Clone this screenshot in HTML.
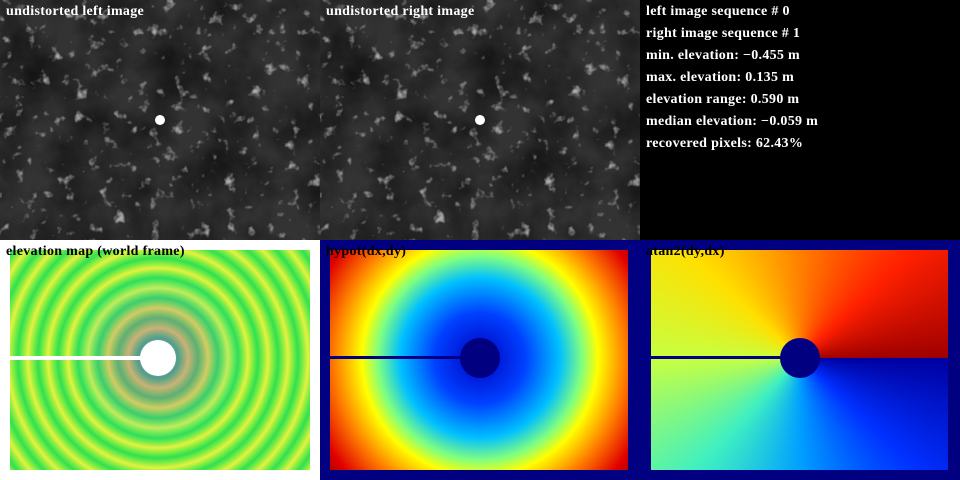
<!DOCTYPE html>
<html><head><meta charset="utf-8"><style>
body{margin:0;background:#000;}
#root{position:relative;width:960px;height:480px;overflow:hidden;background:#000;font-family:"Liberation Serif",serif;font-weight:bold;}
.panel{position:absolute;width:320px;height:240px;overflow:hidden;}
.title{position:absolute;left:6px;top:4px;font-size:14px;letter-spacing:0.3px;color:#fff;white-space:nowrap;}
.dark{color:#000;}
.stat{position:absolute;left:6px;font-size:14px;letter-spacing:0.3px;color:#fff;white-space:nowrap;}
.dot{position:absolute;border-radius:50%;}
</style></head><body>
<div id="root">
  <svg width="0" height="0" style="position:absolute">
    <filter id="tex" x="0" y="0" width="100%" height="100%">
      <feTurbulence type="fractalNoise" baseFrequency="0.02" numOctaves="4" seed="3"/>
      <feColorMatrix type="matrix" values="0 0 0 0 0  0 0 0 0 0  0 0 0 0 0  1.8 0 0 0 -0.6"/>
    </filter>
    <filter id="noise2" x="0" y="0" width="100%" height="100%">
      <feTurbulence type="fractalNoise" baseFrequency="0.08" numOctaves="3" seed="7"/>
      <feColorMatrix type="matrix" values="0 0 0 0 1  0 0 0 0 1  0 0 0 0 1  0 0 0 4 -2.5"/>
    </filter>
  </svg>

  <div class="panel" style="left:0;top:0;background:#333">
    <svg width="320" height="240"><rect width="320" height="240" fill="#333"/><rect width="320" height="240" fill="#000" filter="url(#tex)" opacity="0.6"/><rect width="320" height="240" fill="#bbb" filter="url(#noise2)" opacity="0.6"/></svg>
    <div class="dot" style="left:155px;top:115px;width:10px;height:10px;background:#fff"></div>
    <div class="title">undistorted left image</div>
  </div>
  <div class="panel" style="left:320px;top:0;background:#333">
    <svg width="320" height="240"><rect width="320" height="240" fill="#333"/><rect width="320" height="240" fill="#000" filter="url(#tex)" opacity="0.6"/><rect width="320" height="240" fill="#bbb" filter="url(#noise2)" opacity="0.6"/></svg>
    <div class="dot" style="left:155px;top:115px;width:10px;height:10px;background:#fff"></div>
    <div class="title">undistorted right image</div>
  </div>
  <div class="panel" style="left:640px;top:0;background:#000">
    <div class="stat" style="top:4px">left image sequence # 0</div>
    <div class="stat" style="top:26px">right image sequence # 1</div>
    <div class="stat" style="top:48px">min. elevation: −0.455 m</div>
    <div class="stat" style="top:70px">max. elevation: 0.135 m</div>
    <div class="stat" style="top:92px">elevation range: 0.590 m</div>
    <div class="stat" style="top:114px">median elevation: −0.059 m</div>
    <div class="stat" style="top:136px">recovered pixels: 62.43%</div>
  </div>

  <div class="panel" style="left:0;top:240px;background:#fff">
    <div style="position:absolute;left:10px;top:10px;width:300px;height:220px;background:repeating-radial-gradient(circle at 148px 108px,#30e050 0,#90f040 6px,#e8f040 10px,#90f040 14px,#30e050 20px)"></div>
    <div style="position:absolute;left:10px;top:10px;width:300px;height:220px;background:radial-gradient(circle at 148px 108px,rgba(80,60,255,0.5) 0,rgba(200,60,200,0.3) 40px,rgba(0,200,255,0.15) 70px,rgba(255,255,255,0) 90px)"></div>
    <div style="position:absolute;left:10px;top:116px;width:150px;height:4px;background:#fff"></div>
    <div class="dot" style="left:140px;top:100px;width:36px;height:36px;background:#fff"></div>
    <div class="title dark">elevation map (world frame)</div>
  </div>

  <div class="panel" style="left:320px;top:240px;background:#000080">
    <div style="position:absolute;left:10px;top:10px;width:298px;height:220px;background:radial-gradient(circle at 150px 108px,#0000c0 0,#0040ff 45px,#00c0ff 80px,#80ff80 102px,#ffff00 118px,#ff8000 145px,#e00000 175px,#b00000 190px)"></div>
    <div style="position:absolute;left:10px;top:116px;width:150px;height:3px;background:#000080"></div>
    <div class="dot" style="left:140px;top:98px;width:40px;height:40px;background:#000080"></div>
    <div class="title dark">hypot(dx,dy)</div>
  </div>

  <div class="panel" style="left:640px;top:240px;background:#000080">
    <div style="position:absolute;left:11px;top:10px;width:297px;height:220px;background:conic-gradient(from 90deg at 149px 108px,#0000a0,#0030ff 12%,#00a0ff 25%,#40f0c0 37%,#c8ff40 50%,#ffe000 62%,#ff8000 75%,#ff2000 88%,#a00000 100%)"></div>
    <div style="position:absolute;left:11px;top:116px;width:150px;height:3px;background:#000080"></div>
    <div class="dot" style="left:140px;top:98px;width:40px;height:40px;background:#000080"></div>
    <div class="title dark">atan2(dy,dx)</div>
  </div>
</div>
</body></html>
